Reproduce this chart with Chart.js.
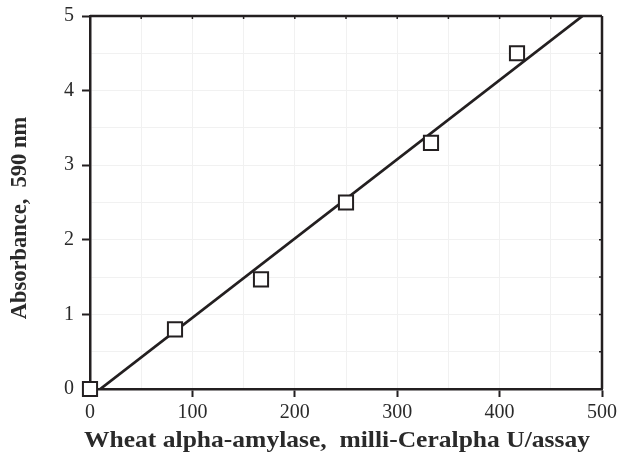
<!DOCTYPE html>
<html>
<head>
<meta charset="utf-8">
<script src="https://cdn.jsdelivr.net/npm/chart.js@4/dist/chart.umd.min.js"></script>
<style>
html,body{margin:0;padding:0;background:#fff;}
#wrap{width:620px;height:465px;}
</style>
</head>
<body>
<div id="wrap"><canvas id="c" width="620" height="465"></canvas></div>
<script>
const amylaseX = [0, 83, 167, 250, 333, 417];
const absorbanceY = [0, 0.8, 1.47, 2.5, 3.3, 4.5];
const fitX = [10, 481];
const fitY = [0, 5];
const xTicks = [0, 100, 200, 300, 400, 500];
const yTicks = [0, 1, 2, 3, 4, 5];
const xTitle = 'Wheat alpha-amylase,  milli-Ceralpha U/assay';
const yTitle = 'Absorbance,  590 nm';

const INK = '#231f20';
const TEXT = '#2a2a2a';

const framePlugin = {
  id: 'frame',
  afterDatasetsDraw(chart) {
    const {ctx, chartArea: a, scales} = chart;
    ctx.save();
    ctx.strokeStyle = INK;
    ctx.lineWidth = 2.5;
    ctx.beginPath();
    ctx.moveTo(a.left, a.top); ctx.lineTo(a.right, a.top);
    ctx.moveTo(a.right, a.top); ctx.lineTo(a.right, a.bottom);
    ctx.stroke();
    ctx.lineWidth = 1.5;
    ctx.beginPath();
    for (let v = 50; v < 500; v += 50) {
      const px = scales.x.getPixelForValue(v);
      ctx.moveTo(px, a.top); ctx.lineTo(px, a.top + 3);
    }
    for (let v = 0.5; v < 5; v += 0.5) {
      const py = scales.y.getPixelForValue(v);
      ctx.moveTo(a.right, py); ctx.lineTo(a.right - 3, py);
    }
    ctx.stroke();
    ctx.restore();
  },
  afterDraw(chart) {
    const {ctx} = chart;
    ctx.save();
    ctx.fillStyle = TEXT;
    ctx.textAlign = 'center';
    ctx.textBaseline = 'middle';
    ctx.font = 'bold 23px "Liberation Serif", "DejaVu Serif", serif';
    const w = ctx.measureText(xTitle).width;
    const sx = Math.max(1, 506 / w);
    ctx.save();
    ctx.translate(337, 441);
    ctx.scale(sx, 1);
    ctx.fillText(xTitle, 0, 0);
    ctx.restore();
    ctx.font = 'bold 22.5px "Liberation Serif", "DejaVu Serif", serif';
    ctx.translate(20, 218);
    ctx.rotate(-Math.PI / 2);
    ctx.fillText(yTitle, 0, 0);
    ctx.restore();
  }
};

new Chart(document.getElementById('c'), {
  type: 'scatter',
  data: {
    datasets: [
      {
        type: 'line',
        data: fitX.map((x, i) => ({x, y: fitY[i]})),
        borderColor: INK,
        borderWidth: 2.8,
        pointRadius: 0,
        fill: false,
        order: 2
      },
      {
        data: amylaseX.map((x, i) => ({x, y: absorbanceY[i]})),
        pointStyle: 'rect',
        pointRadius: 10,
        pointHoverRadius: 10,
        pointBackgroundColor: '#ffffff',
        pointBorderColor: INK,
        pointBorderWidth: 2,
        showLine: false,
        clip: false,
        order: 1
      }
    ]
  },
  options: {
    responsive: false,
    animation: false,
    devicePixelRatio: 1,
    layout: {padding: {left: 0, top: 16, right: 18, bottom: 0}},
    plugins: {legend: {display: false}, tooltip: {enabled: false}},
    scales: {
      x: {
        type: 'linear',
        position: 'bottom',
        min: 0, max: 500,
        afterFit(s) { s.height = 76; s.paddingLeft = 0; s.paddingRight = 0; },
        afterBuildTicks(s) {
          const t = [];
          for (let v = 0; v <= 500; v += 50) t.push({value: v});
          s.ticks = t;
        },
        ticks: {
          callback: v => xTicks.includes(v) ? String(v) : '',
          color: TEXT,
          font: {family: '"Liberation Serif", serif', size: 20},
          padding: 4,
          maxRotation: 0,
          autoSkip: false
        },
        grid: {
          color: ctx => (ctx.tick && ctx.tick.value > 0 && ctx.tick.value < 500) ? '#f1f1f1' : 'rgba(0,0,0,0)',
          lineWidth: 1,
          tickLength: 8,
          tickColor: ctx => (ctx.tick && xTicks.includes(ctx.tick.value)) ? INK : 'rgba(0,0,0,0)',
          tickWidth: 2
        },
        border: {display: true, color: INK, width: 2.5}
      },
      y: {
        type: 'linear',
        position: 'left',
        min: 0, max: 5,
        afterFit(s) { s.width = 90; s.paddingTop = 0; s.paddingBottom = 0; },
        afterBuildTicks(s) {
          const t = [];
          for (let v = 0; v <= 5.001; v += 0.5) t.push({value: Math.round(v * 2) / 2});
          s.ticks = t;
        },
        ticks: {
          callback: v => yTicks.includes(v) ? String(v) : '',
          color: TEXT,
          font: {family: '"Liberation Serif", serif', size: 20},
          padding: 8,
          autoSkip: false
        },
        grid: {
          color: ctx => (ctx.tick && ctx.tick.value > 0 && ctx.tick.value < 5) ? '#f1f1f1' : 'rgba(0,0,0,0)',
          lineWidth: 1,
          tickLength: 8,
          tickColor: ctx => (ctx.tick && yTicks.includes(ctx.tick.value)) ? INK : 'rgba(0,0,0,0)',
          tickWidth: 2
        },
        border: {display: true, color: INK, width: 2.5}
      }
    }
  },
  plugins: [framePlugin]
});
</script>
</body>
</html>
